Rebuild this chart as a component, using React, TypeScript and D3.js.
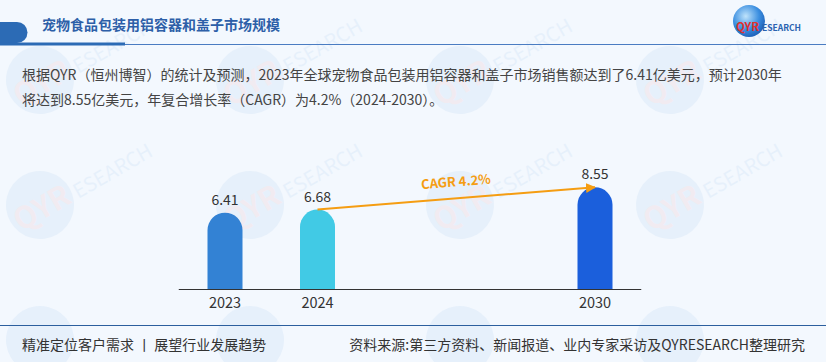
import React from 'react';
import * as d3 from 'd3';

const title = '宠物食品包装用铝容器和盖子市场规模';
const introLines = [
  '根据QYR（恒州博智）的统计及预测，2023年全球宠物食品包装用铝容器和盖子市场销售额达到了6.41亿美元，预计2030年',
  '将达到8.55亿美元，年复合增长率（CAGR）为4.2%（2024-2030）。',
];
// two empty slots keep 2030 apart from 2024
const slots = ['2023', '2024', 'gap1', 'gap2', '2030'];
const years = ['2023', '2024', '2030'];
const sales = [6.41, 6.68, 8.55];
const barColors = ['#3382d4', '#41cae5', '#1b5fdc'];
const cagrLabel = 'CAGR 4.2%';
const footLeft = '精准定位客户需求 丨 展望行业发展趋势';
const footRight = '资料来源:第三方资料、新闻报道、业内专家采访及QYRESEARCH整理研究';

const W = 826;
const H = 362;
const FONT = '"Noto Sans CJK SC", "Noto Sans", sans-serif';

const x = d3.scaleBand().domain(slots).range([178.75, 641.25]).padding(0);
const y = d3.scaleLinear().domain([0, 10]).range([289, 170]);
const barW = 35;

function barPath(cx: number, top: number, base: number, w: number) {
  const r = w / 2;
  const p = d3.path();
  p.moveTo(cx - r, base);
  p.lineTo(cx - r, top + r);
  p.arc(cx, top + r, r, Math.PI, 0);
  p.lineTo(cx + r, base);
  p.closePath();
  return p.toString();
}

function Watermark({ cx, cy, label }: { cx: number; cy: number; label: boolean }) {
  return (
    <g opacity={0.06} transform={`translate(${cx},${cy}) rotate(-30)`}>
      <circle r={34} fill="#2a7fd0" />
      {label && (
        <>
          <text x={-30} y={14} fontSize={30} fontWeight="bold" fill="#e0302e" fontFamily={FONT}>QYR</text>
          <text x={36} y={14} fontSize={20} fill="#2a7fd0" fontFamily={FONT}>ESEARCH</text>
        </>
      )}
    </g>
  );
}

export default function App() {
  const cx = (k: string) => (x(k) as number) + x.bandwidth() / 2;
  const start: [number, number] = [cx('2024'), y(sales[1])];
  const end: [number, number] = [cx('2030'), y(sales[2])];
  const angle = (Math.atan2(end[1] - start[1], end[0] - start[0]) * 180) / Math.PI;
  const midX = (start[0] + end[0]) / 2;
  const midY = (start[1] + end[1]) / 2 - 12;

  const marks = [];
  for (const wy of [80, 205, 340]) {
    for (const wx of [40, 250, 460, 670]) {
      marks.push(<Watermark key={`${wx}-${wy}`} cx={wx} cy={wy} label={wy < 300} />);
    }
  }

  return (
    <div style={{ position: 'absolute', left: 0, top: 0, width: W, height: H }}>
      <svg width={W} height={H} style={{ display: 'block' }}>
        <defs>
          <marker id="arr" viewBox="0 0 10 10" refX={9} refY={5} markerWidth={5} markerHeight={5} orient="auto">
            <path d="M0,0 L10,5 L0,10 z" fill="#f59d12" />
          </marker>
          <radialGradient id="globe" cx="40%" cy="35%" r="70%">
            <stop offset="0%" stopColor="#bfe3fb" />
            <stop offset="60%" stopColor="#3a8ee0" />
            <stop offset="100%" stopColor="#1c5cb4" />
          </radialGradient>
        </defs>
        <rect width={W} height={H} fill="#f3f8fe" />
        {marks}

        {/* header */}
        <path d="M0,22 H17 A10.5,10.5 0 0 1 17,43 H0 Z" fill="#2c6bb5" />
        <line x1={0} x2={W} y1={44.5} y2={44.5} stroke="#4a7cc2" strokeWidth={1.2} />
        <rect x={0} y={42.5} width={125} height={3} fill="#2c6bb5" />
        <text x={42} y={30} fontSize={14} fontWeight="bold" fill="#2d5fa8" fontFamily={FONT}>{title}</text>

        {/* logo */}
        <circle cx={749} cy={21} r={16} fill="url(#globe)" />
        <text x={736} y={31} fontSize={11.5} fontWeight="bold" fill="#e0302e" fontFamily={FONT}>QYR</text>
        <text x={762} y={31} fontSize={8.5} fontWeight="bold" fill="#2a62b0" fontFamily={FONT}>ESEARCH</text>

        {introLines.map((t, i) => (
          <text key={i} x={22} y={80 + i * 25} fontSize={14} fill="#444" fontFamily={FONT}>{t}</text>
        ))}

        {/* bars */}
        {years.map((yr, i) => (
          <g key={yr}>
            <path d={barPath(cx(yr), y(sales[i]), y(0), barW)} fill={barColors[i]} />
            <text x={cx(yr)} y={y(sales[i]) - 8} textAnchor="middle" fontSize={14} fill="#333" fontFamily={FONT}>
              {sales[i].toFixed(2)}
            </text>
            <text x={cx(yr)} y={308} textAnchor="middle" fontSize={14.5} fill="#333" fontFamily={FONT}>{yr}</text>
          </g>
        ))}
        <line x1={x.range()[0]} x2={x.range()[1]} y1={y(0) + 0.5} y2={y(0) + 0.5} stroke="#333" strokeWidth={1} />

        {/* cagr arrow */}
        <line x1={start[0]} y1={start[1]} x2={end[0]} y2={end[1]} stroke="#f59d12" strokeWidth={2} markerEnd="url(#arr)" />
        <text
          x={midX}
          y={midY}
          textAnchor="middle"
          fontSize={13}
          fontWeight="bold"
          fill="#f59d12"
          fontFamily={FONT}
          transform={`rotate(${angle},${midX},${midY})`}
        >
          {cagrLabel}
        </text>

        {/* footer */}
        <line x1={0} x2={W} y1={325.5} y2={325.5} stroke="#2c5f9e" strokeWidth={1.2} />
        <text x={22} y={350} fontSize={14} fill="#333" fontFamily={FONT}>{footLeft}</text>
        <text x={805} y={350} textAnchor="end" fontSize={14} fill="#333" fontFamily={FONT}>{footRight}</text>
      </svg>
    </div>
  );
}
